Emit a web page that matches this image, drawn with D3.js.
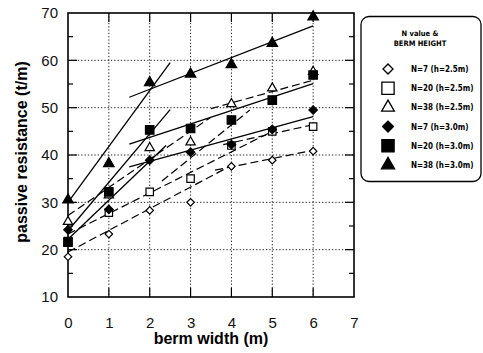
<!DOCTYPE html>
<html>
<head>
<meta charset="utf-8">
<script src="https://cdn.jsdelivr.net/npm/d3@7"></script>
<style>
  body { margin: 0; background: #fff; }
  svg { display: block; }
  .tick text { font-family: "Liberation Sans", Arial, sans-serif; font-size: 15px; fill: #111; }
  .axis path { display: none; }
</style>
</head>
<body>
<div id="chart"></div>
<script>
// berm width (m)
var bermWidth = [0, 1, 2, 3, 4, 5, 6];

// passive resistance (t/m)
var n7h25  = [18.5, 23.3, 28.3, 30.0, 37.6, 38.9, 40.8];
var n20h25 = [21.8, 27.8, 32.2, 35.0, 42.0, 45.0, 46.0];
var n36h25 = [25.9, 31.5, 41.5, 42.7, 50.8, 54.1, 57.6];
var n7h30  = [24.2, 28.5, 38.9, 40.6, 42.2, 45.4, 49.5];
var n20h30 = [21.6, 32.2, 45.3, 45.6, 47.4, 51.6, 56.9];
var n36h30 = [30.5, 38.2, 55.3, 57.1, 59.1, 63.6, 69.2];

var seriesNames = ["N=7 (h=2.5m)", "N=20 (h=2.5m)", "N=38 (h=2.5m)",
                   "N=7 (h=3.0m)", "N=20 (h=3.0m)", "N=38 (h=3.0m)"];

// fitted segments [x0, y0, x1, y1]
var solidFits = [
  [0, 30.0, 2.5, 59.5], [1.5, 52.2, 6, 67.3],
  [0, 24.0, 2.5, 49.6], [1.5, 42.3, 6, 55.1],
  [0, 22.2, 2.4, 42.0], [1.5, 37.5, 6, 48.1]
];
var dashedFits = [
  [0, 19.5, 4, 37.8], [3.6, 36.8, 6, 41.0],
  [0, 23.3, 5, 45.0], [3.8, 42.2, 6, 46.4],
  [0, 27.2, 3.5, 48.0], [3.5, 49.8, 6, 55.8],
  [2.3, 34.5, 4.45, 49.5]
];

var xTicks = [0, 1, 2, 3, 4, 5, 6, 7];
var yTicks = [10, 20, 30, 40, 50, 60, 70];
var yMinor = [15, 25, 35, 45, 55, 65];

var width = 483, height = 353;
var plotLeft = 68, plotRight = 354, plotTop = 13, plotBottom = 297;

var svg = d3.select("#chart").append("svg")
  .attr("width", width)
  .attr("height", height);

var x = d3.scaleLinear().domain([0, 7]).range([plotLeft, plotRight]);
var y = d3.scaleLinear().domain([10, 70]).range([plotBottom, plotTop]);

// dotted grid
svg.append("g").selectAll("line")
  .data(xTicks.slice(1, 7))
  .enter().append("line")
    .attr("x1", function(d){ return x(d); })
    .attr("x2", function(d){ return x(d); })
    .attr("y1", plotTop).attr("y2", plotBottom)
    .attr("stroke", "#222").attr("stroke-width", 1)
    .attr("stroke-dasharray", "1.3,2");

svg.append("g").selectAll("line")
  .data(yTicks.slice(1, 6))
  .enter().append("line")
    .attr("y1", function(d){ return y(d); })
    .attr("y2", function(d){ return y(d); })
    .attr("x1", plotLeft).attr("x2", plotRight)
    .attr("stroke", "#222").attr("stroke-width", 1)
    .attr("stroke-dasharray", "1.3,2");

// solid inward ticks on the frame
var tickG = svg.append("g").attr("stroke", "#000").attr("stroke-width", 1.2);
xTicks.slice(1, 7).forEach(function(d){
  tickG.append("line").attr("x1", x(d)).attr("x2", x(d)).attr("y1", plotBottom).attr("y2", plotBottom - 9);
  tickG.append("line").attr("x1", x(d)).attr("x2", x(d)).attr("y1", plotTop).attr("y2", plotTop + 9);
});
yTicks.slice(1, 6).forEach(function(d){
  tickG.append("line").attr("y1", y(d)).attr("y2", y(d)).attr("x1", plotLeft).attr("x2", plotLeft + 9);
  tickG.append("line").attr("y1", y(d)).attr("y2", y(d)).attr("x1", plotRight).attr("x2", plotRight - 9);
});
yMinor.forEach(function(d){
  tickG.append("line").attr("y1", y(d)).attr("y2", y(d)).attr("x1", plotLeft).attr("x2", plotLeft + 5);
  tickG.append("line").attr("y1", y(d)).attr("y2", y(d)).attr("x1", plotRight).attr("x2", plotRight - 5);
});

// frame
svg.append("rect")
  .attr("x", plotLeft).attr("y", plotTop)
  .attr("width", plotRight - plotLeft).attr("height", plotBottom - plotTop)
  .attr("fill", "none").attr("stroke", "#000").attr("stroke-width", 1.6);

// axes (labels only)
svg.append("g")
  .attr("class", "axis")
  .attr("transform", "translate(0," + plotBottom + ")")
  .call(d3.axisBottom(x).tickValues(xTicks).tickSize(0).tickPadding(20).tickFormat(d3.format("d")));

svg.append("g")
  .attr("class", "axis")
  .attr("transform", "translate(" + plotLeft + ",0)")
  .call(d3.axisLeft(y).tickValues(yTicks).tickSize(0).tickPadding(10).tickFormat(d3.format("d")));

// axis titles
svg.append("text")
  .attr("x", 211).attr("y", 344)
  .attr("text-anchor", "middle")
  .style("font-family", "Liberation Sans, Arial, sans-serif")
  .style("font-size", "16px").style("font-weight", "bold")
  .text("berm width (m)");

svg.append("text")
  .attr("transform", "translate(27," + 152 + ") rotate(-90)")
  .attr("text-anchor", "middle")
  .style("font-family", "Liberation Sans, Arial, sans-serif")
  .style("font-size", "16px").style("font-weight", "bold")
  .text("passive resistance (t/m)");

// fit lines
svg.append("g").selectAll("line")
  .data(solidFits)
  .enter().append("line")
    .attr("x1", function(d){ return x(d[0]); })
    .attr("y1", function(d){ return y(d[1]); })
    .attr("x2", function(d){ return x(d[2]); })
    .attr("y2", function(d){ return y(d[3]); })
    .attr("stroke", "#000").attr("stroke-width", 1.3);

svg.append("g").selectAll("line")
  .data(dashedFits)
  .enter().append("line")
    .attr("x1", function(d){ return x(d[0]); })
    .attr("y1", function(d){ return y(d[1]); })
    .attr("x2", function(d){ return x(d[2]); })
    .attr("y2", function(d){ return y(d[3]); })
    .attr("stroke", "#000").attr("stroke-width", 1.2)
    .attr("stroke-dasharray", "8,4");

// markers: diamonds are squares turned 45 degrees
var series = [
  { values: n7h25,  type: d3.symbolSquare,   rot: 45, filled: false, size: 28 },
  { values: n20h25, type: d3.symbolSquare,   rot: 0,  filled: false, size: 55 },
  { values: n36h25, type: d3.symbolTriangle, rot: 0,  filled: false, size: 38 },
  { values: n7h30,  type: d3.symbolSquare,   rot: 45, filled: true,  size: 36 },
  { values: n20h30, type: d3.symbolSquare,   rot: 0,  filled: true,  size: 72 },
  { values: n36h30, type: d3.symbolTriangle, rot: 0,  filled: true,  size: 48 }
];

series.forEach(function(s){
  svg.append("g").selectAll("path")
    .data(s.values)
    .enter().append("path")
      .attr("d", d3.symbol().type(s.type).size(s.size))
      .attr("transform", function(d, i){
        return "translate(" + x(bermWidth[i]) + "," + y(d) + ") rotate(" + s.rot + ")";
      })
      .attr("fill", s.filled ? "#000" : "#fff")
      .attr("stroke", "#000").attr("stroke-width", 1.2);
});

// legend
var legend = svg.append("g");
legend.append("rect")
  .attr("x", 361).attr("y", 16.5)
  .attr("width", 120).attr("height", 165)
  .attr("rx", 8)
  .attr("fill", "#fff").attr("stroke", "#000").attr("stroke-width", 1.3);

legend.append("text")
  .attr("x", 420).attr("y", 36)
  .attr("text-anchor", "middle")
  .style("font-family", "DejaVu Sans Condensed, Liberation Sans Narrow, sans-serif")
  .style("font-size", "7.5px").style("font-weight", "bold")
  .text("N value &");
legend.append("text")
  .attr("x", 420).attr("y", 46)
  .attr("text-anchor", "middle")
  .style("font-family", "DejaVu Sans Condensed, Liberation Sans Narrow, sans-serif")
  .style("font-size", "7.5px").style("font-weight", "bold")
  .text("BERM HEIGHT");

var legendSize = [50, 150, 70, 60, 150, 75];
series.forEach(function(s, i){
  var ly = 69 + i * 19.2;
  legend.append("path")
    .attr("d", d3.symbol().type(s.type).size(legendSize[i]))
    .attr("transform", "translate(388," + ly + ") rotate(" + s.rot + ")")
    .attr("fill", s.filled ? "#000" : "#fff")
    .attr("stroke", "#000").attr("stroke-width", 1.3);
  legend.append("text")
    .attr("x", 411).attr("y", ly + 3)
    .style("font-family", "DejaVu Sans Condensed, Liberation Sans Narrow, sans-serif")
    .style("font-size", "8px").style("font-weight", "bold")
    .text(seriesNames[i]);
});
</script>
</body>
</html>
